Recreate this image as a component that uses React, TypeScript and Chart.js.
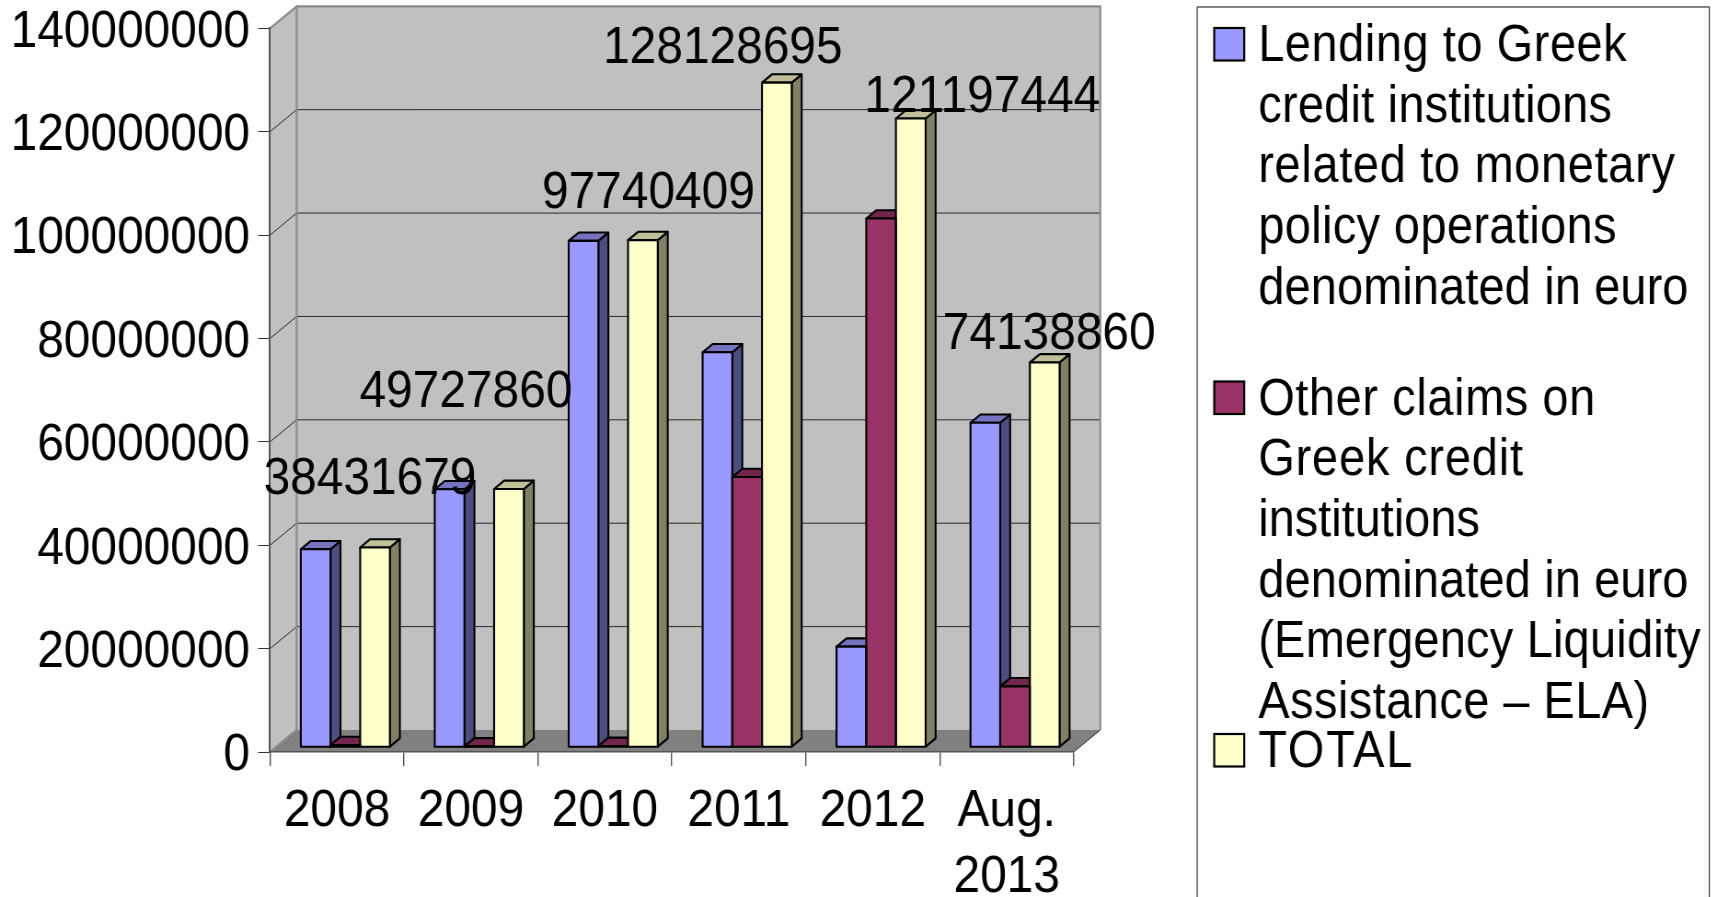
import React, { useEffect, useRef } from "react";
import { Chart, registerables } from "chart.js";

Chart.register(...registerables);

const categories: (string | string[])[] = ["2008", "2009", "2010", "2011", "2012", ["Aug.", "2013"]];
const lendingValues = [38100000, 49670000, 97600000, 76100000, 19300000, 62500000];
const otherClaimsValues = [330000, 60000, 140000, 52030000, 101900000, 11640000];
const totalValues = [38431679, 49727860, 97740409, 128128695, 121197444, 74138860];
const yTickStep = 20000000;
const yMax = 140000000;
// The bars stand nearer the viewer than the back wall, so they read on a slightly larger hidden scale
const barAxisMax = 139630000;

const legendLending = ["Lending to Greek", "credit institutions", "related to monetary", "policy operations", "denominated in euro"];
const legendOther = ["Other claims on", "Greek credit", "institutions", "denominated in euro", "(Emergency Liquidity", "Assistance \u2013 ELA)"];
const legendTotal = ["TOTAL"];

const colorLending = "#9999ff";
const colorOther = "#993366";
const colorTotal = "#ffffcc";

// Horizontal squeeze of the whole picture (the reference is stretched vertically)
const W = 1717;
const H = 897;
const SX = 0.92;
const LW = Math.round(W / SX);
const lx = (realX: number) => realX / SX;

const FONT = "'Liberation Sans', Arial, sans-serif";
const wallDepth = { dx: lx(26.6), dy: 22 };
const barShift = { dx: lx(8.3), dy: -5.3 };
const barDepth = { dx: lx(10), dy: 8.3 };
const barStroke = 2.1;

// Manual placement of the value labels relative to the top of each TOTAL bar
const labelNudges = [
  { dx: lx(-5), dy: -67.7 },
  { dx: lx(-43), dy: -96.5 },
  { dx: lx(5.5), dy: -46 },
  { dx: lx(-54), dy: -34 },
  { dx: lx(71.5), dy: -21 },
  { dx: lx(4.5), dy: -27.5 },
];

const legendBox = { left: lx(1197), top: 7, right: lx(1709), bottom: H + 20 };
const legendEntries = [
  { lines: legendLending, baseline: 61, color: colorLending, extra: [9, 4.5, 13, 6.5, 2.5] },
  { lines: legendOther, baseline: 414.5, color: colorOther, extra: [9, 10, 0, 2.5, 4.5, 8] },
  { lines: legendTotal, baseline: 767, color: colorTotal, extra: [9] },
];
const legendLineStep = 60.7;

function shade(hex: string, f: number) {
  const n = parseInt(hex.slice(1), 16);
  const c = [(n >> 16) & 255, (n >> 8) & 255, n & 255].map((v) => Math.round(v * f));
  return `rgb(${c[0]},${c[1]},${c[2]})`;
}

function poly(ctx: CanvasRenderingContext2D, pts: number[][]) {
  ctx.beginPath();
  pts.forEach((p, i) => (i ? ctx.lineTo(p[0], p[1]) : ctx.moveTo(p[0], p[1])));
  ctx.closePath();
}

const wallsPlugin = {
  id: "walls",
  beforeDraw(chart: any) {
    const { ctx, chartArea: a, scales } = chart;
    const { dx, dy } = wallDepth;
    ctx.save();
    ctx.fillStyle = "#ffffff";
    ctx.fillRect(0, 0, chart.width, chart.height);

    // back wall and left wall
    ctx.fillStyle = "#c0c0c0";
    ctx.fillRect(a.left + dx, a.top - dy, a.right - a.left, a.bottom - a.top);
    poly(ctx, [[a.left, a.top], [a.left + dx, a.top - dy], [a.left + dx, a.bottom - dy], [a.left, a.bottom]]);
    ctx.fill();
    // floor
    ctx.fillStyle = "#808080";
    poly(ctx, [[a.left, a.bottom], [a.left + dx, a.bottom - dy], [a.right + dx, a.bottom - dy], [a.right, a.bottom]]);
    ctx.fill();

    // gridlines from the value scale
    ctx.strokeStyle = "#2a2a2a";
    ctx.lineWidth = 1;
    scales.y.ticks.forEach((t: any) => {
      if (t.value === 0 || t.value === yMax) return;
      const y = scales.y.getPixelForValue(t.value);
      ctx.beginPath();
      ctx.moveTo(a.left, y);
      ctx.lineTo(a.left + dx, y - dy);
      ctx.lineTo(a.right + dx, y - dy);
      ctx.stroke();
    });

    // wall edges
    ctx.strokeStyle = "#8c8c8c";
    ctx.lineWidth = 2.2;
    ctx.beginPath();
    ctx.moveTo(a.left, a.top);
    ctx.lineTo(a.left + dx, a.top - dy);
    ctx.lineTo(a.right + dx, a.top - dy);
    ctx.lineTo(a.right + dx, a.bottom - dy);
    ctx.moveTo(a.left + dx, a.top - dy);
    ctx.lineTo(a.left + dx, a.bottom - dy);
    ctx.lineTo(a.left, a.bottom);
    ctx.stroke();
    ctx.strokeStyle = "#333333";
    ctx.lineWidth = 1;
    ctx.beginPath();
    ctx.moveTo(a.right, a.bottom);
    ctx.lineTo(a.right + dx, a.bottom - dy);
    ctx.stroke();
    ctx.restore();
  },
};

const bars3dPlugin = {
  id: "bars3d",
  beforeDatasetsDraw(chart: any) {
    const { ctx } = chart;
    const { dx, dy } = barDepth;
    ctx.save();
    ctx.translate(barShift.dx, barShift.dy);
    ctx.lineJoin = "round";
    ctx.strokeStyle = "#000000";
    ctx.lineWidth = barStroke;
    chart.data.datasets.forEach((ds: any, i: number) => {
      chart.getDatasetMeta(i).data.forEach((bar: any) => {
        const l = bar.x - bar.width / 2;
        const r = bar.x + bar.width / 2;
        poly(ctx, [[r, bar.y], [r + dx, bar.y - dy], [r + dx, bar.base - dy], [r, bar.base]]);
        ctx.fillStyle = shade(ds.backgroundColor, 0.5);
        ctx.fill();
        ctx.stroke();
        poly(ctx, [[l, bar.y], [r, bar.y], [r + dx, bar.y - dy], [l + dx, bar.y - dy]]);
        ctx.fillStyle = shade(ds.backgroundColor, 0.75);
        ctx.fill();
        ctx.stroke();
      });
    });
  },
  afterDatasetsDraw(chart: any) {
    const { ctx } = chart;
    // outlines of the front faces, centred on the bar edges so neighbours share one line
    ctx.strokeStyle = "#000000";
    ctx.lineWidth = barStroke;
    chart.data.datasets.forEach((_: any, i: number) => {
      chart.getDatasetMeta(i).data.forEach((bar: any) => {
        ctx.strokeRect(bar.x - bar.width / 2, bar.y, bar.width, bar.base - bar.y);
      });
    });
    ctx.restore();
  },
};

const labelsPlugin = {
  id: "valueLabels",
  afterDraw(chart: any) {
    const { ctx } = chart;
    ctx.save();
    ctx.font = `52px ${FONT}`;
    ctx.fillStyle = "#000000";
    ctx.textAlign = "center";
    ctx.textBaseline = "middle";
    chart.getDatasetMeta(2).data.forEach((bar: any, i: number) => {
      const n = labelNudges[i];
      ctx.fillText(String(totalValues[i]), bar.x + barShift.dx + n.dx, bar.y + barShift.dy + n.dy);
    });
    ctx.restore();
  },
};

const legendPlugin = {
  id: "boxLegend",
  afterDraw(chart: any) {
    const { ctx } = chart;
    ctx.save();
    ctx.fillStyle = "#ffffff";
    ctx.fillRect(legendBox.left, legendBox.top, legendBox.right - legendBox.left, legendBox.bottom - legendBox.top);
    ctx.strokeStyle = "#333333";
    ctx.lineWidth = 1.2;
    ctx.strokeRect(legendBox.left, legendBox.top, legendBox.right - legendBox.left, legendBox.bottom - legendBox.top);
    ctx.font = `51px ${FONT}`;
    ctx.textAlign = "left";
    ctx.textBaseline = "alphabetic";
    legendEntries.forEach((e) => {
      ctx.fillStyle = e.color;
      ctx.strokeStyle = "#000000";
      ctx.lineWidth = 2.2;
      ctx.fillRect(lx(1214), e.baseline - 33, lx(30), 32.5);
      ctx.strokeRect(lx(1214), e.baseline - 33, lx(30), 32.5);
      ctx.fillStyle = "#000000";
      e.lines.forEach((line, i) => {
        (ctx as any).letterSpacing = `${lx(e.extra[i]) / line.length}px`;
        ctx.fillText(line, lx(1258), e.baseline + i * legendLineStep);
      });
      (ctx as any).letterSpacing = "0px";
    });
    ctx.restore();
  },
};

export default function App() {
  const ref = useRef<HTMLCanvasElement | null>(null);
  useEffect(() => {
    const makeDs = (label: string, data: number[], color: string) => ({
      label,
      data,
      yAxisID: "barY",
      backgroundColor: color,
      borderWidth: 0,
      categoryPercentage: 0.665,
      barPercentage: 1,
    });
    const chart = new Chart(ref.current as HTMLCanvasElement, {
      type: "bar",
      data: {
        labels: categories as any,
        datasets: [
          makeDs(legendLending.join(" "), lendingValues, colorLending),
          makeDs(legendOther.join(" "), otherClaimsValues, colorOther),
          makeDs(legendTotal.join(" "), totalValues, colorTotal),
        ],
      },
      options: {
        animation: false,
        responsive: false,
        maintainAspectRatio: false,
        layout: { padding: { left: 0, top: 28.3, right: LW - lx(1073.5), bottom: 0 } },
        plugins: { legend: { display: false }, tooltip: { enabled: false }, title: { display: false } },
        scales: {
          x: {
            grid: { drawOnChartArea: false, drawTicks: true, tickLength: 14, color: "#555555", lineWidth: 1.4 },
            border: { color: "#555555", width: 1.6 },
            ticks: {
              color: "#000000",
              font: { family: FONT, size: 52, lineHeight: 1.27 },
              padding: 12.5,
              maxRotation: 0,
              minRotation: 0,
              autoSkip: false,
            },
            afterFit(scale: any) {
              scale.height = H - 752;
              scale.paddingLeft = 0;
              scale.paddingRight = 0;
            },
          },
          y: {
            position: "left",
            min: 0,
            max: yMax,
            grid: { drawOnChartArea: false, drawTicks: true, tickLength: 13, color: "#333333", lineWidth: 1 },
            border: { color: "#555555", width: 2 },
            ticks: {
              stepSize: yTickStep,
              color: "#000000",
              font: { family: FONT, size: 52 },
              padding: 8.7,
              labelOffset: 4,
              callback: (v: any) => String(v),
            },
            afterFit(scale: any) {
              scale.width = lx(270);
              scale.paddingTop = 0;
              scale.paddingBottom = 0;
            },
          },
          barY: {
            display: false,
            position: "right",
            min: 0,
            max: barAxisMax,
            afterFit(scale: any) {
              scale.width = 0;
            },
          },
        },
      } as any,
      plugins: [wallsPlugin, bars3dPlugin, labelsPlugin, legendPlugin] as any,
    });
    return () => chart.destroy();
  }, []);
  return (
    <div style={{ position: "fixed", left: 0, top: 0, width: W, height: H, overflow: "hidden", background: "#fff" }}>
      <div style={{ transform: `scale(${W / LW},1)`, transformOrigin: "0 0", width: LW, height: H }}>
        <canvas ref={ref} width={LW} height={H} style={{ display: "block" }} />
      </div>
    </div>
  );
}
